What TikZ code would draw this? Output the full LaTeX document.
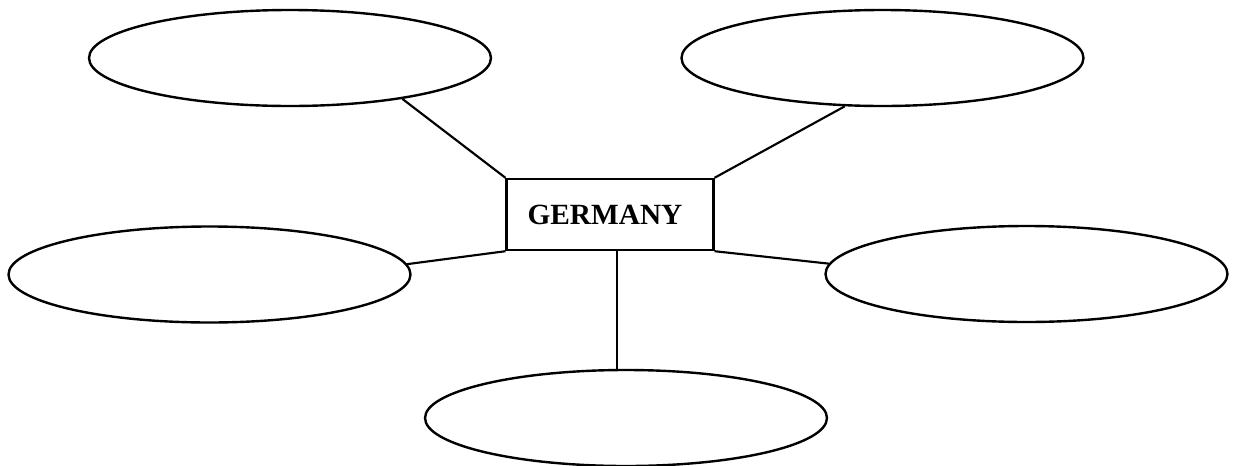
\documentclass[tikz,border=0pt]{standalone}
\usepackage{fontspec}
\setmainfont{Liberation Serif}
\usetikzlibrary{shapes.geometric}
\begin{document}
\begin{tikzpicture}[x=0.75pt,y=-0.75pt,
  bubble/.style={draw,ellipse,line width=1.8pt,minimum width=301.5pt,minimum height=72pt,inner sep=0pt},
  country/.style={draw,rectangle,line width=1.8pt,minimum width=155pt,minimum height=53.25pt,inner sep=0pt,font=\fontsize{22}{24}\selectfont\bfseries},
  link/.style={line width=1.6pt}]
\useasboundingbox (0,0) rectangle (1233,465);
\node[bubble] (e1) at (290,58) {};
\node[bubble] (e2) at (882.5,58) {};
\node[bubble] (e3) at (209.5,274.5) {};
\node[bubble] (e4) at (1026.5,274) {};
\node[bubble] (e5) at (626,418) {};
\node[country] (g) at (610,214.5) {\hspace*{-7.5pt}GERMANY};
\draw[link] (e1.-20) -- (g.north west);
\draw[link] (e2.-128) -- (g.north east);
\draw[link] (e3.3) -- (g.south west);
\draw[link] (e4.177) -- (g.south east);
\draw[link] (g.south -| e5.100) -- (e5.100);
\end{tikzpicture}
\end{document}
